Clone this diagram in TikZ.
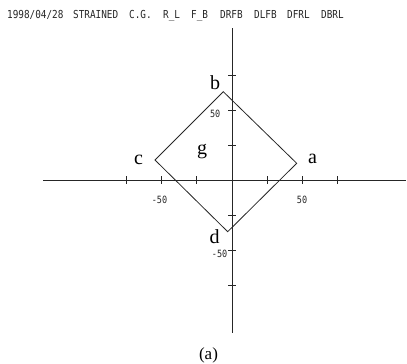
\documentclass[tikz,border=0pt]{standalone}
\usepackage{fontspec}
\setmainfont{Liberation Serif}
\newfontfamily\plotfont[FakeStretch=0.85]{DejaVu Sans Mono}
\begin{document}
\begin{tikzpicture}[x=1pt,y=-1pt,
  axisline/.style={line width=0.8pt,black!85},
  tickmark/.style={line width=0.8pt,black!85},
  diamondline/.style={line width=0.8pt,black!85,line join=miter},
  hdr/.style={anchor=base west,inner sep=0pt,font=\plotfont\fontsize{11}{11}\selectfont,text=black!85},
  ticklbl/.style={inner sep=0pt,font=\plotfont\fontsize{10}{10}\selectfont,text=black!85},
  vlabel/.style={anchor=base,inner sep=0pt,font=\fontsize{20}{20}\selectfont}]
\useasboundingbox (0,0) rectangle (407,364);
% header
\node[hdr] (h1) at (7,19) {1998/04/28};
\node[hdr] (h2) at (73,19) {STRAINED};
\node[hdr] (h3) at (129,19) {C.G.};
\node[hdr] (h4) at (163,19) {R\_L};
\node[hdr] (h5) at (191,19) {F\_B};
\node[hdr] (h6) at (220,19) {DRFB};
\node[hdr] (h7) at (254,19) {DLFB};
\node[hdr] (h8) at (287,19) {DFRL};
\node[hdr] (h9) at (321,19) {DBRL};
% axes
\coordinate (xl) at (43,180);
\coordinate (xr) at (406,180);
\coordinate (yt) at (232.3,28);
\coordinate (yb) at (232.3,333);
\draw[axisline] (xl) -- (xr);
\draw[axisline] (yt) -- (yb);
\foreach \t in {126.7,161.7,196.7,267.3,302.3,337.3}
  \draw[tickmark] (\t,176) -- (\t,184);
\foreach \t in {75,110,145,215,250,285}
  \draw[tickmark] (228.3,\t) -- (236.3,\t);
% tick labels
\node[ticklbl,anchor=base] (xm50) at (159.5,203) {-50};
\node[ticklbl,anchor=base] (xp50) at (302,203) {50};
\node[ticklbl,anchor=base east] (yp50) at (220.5,117) {50};
\node[ticklbl,anchor=base east] (ym50) at (227.5,257) {-50};
% diamond
\coordinate (B) at (223.3,91.7);
\coordinate (A) at (296.7,163.3);
\coordinate (D) at (227.7,231.7);
\coordinate (C) at (155,160);
\draw[diamondline] (B) -- (A) -- (D) -- (C) -- cycle;
% labels
\node[vlabel] (la) at (312.5,163) {a};
\node[vlabel] (lb) at (215,89) {b};
\node[vlabel] (lc) at (138.5,164) {c};
\node[vlabel] (ld) at (214.5,243) {d};
\node[vlabel] (lg) at (202,154) {g};
\node[anchor=base,inner sep=0pt,font=\fontsize{17}{17}\selectfont] (cap) at (208.5,359) {(a)};
\end{tikzpicture}
\end{document}
